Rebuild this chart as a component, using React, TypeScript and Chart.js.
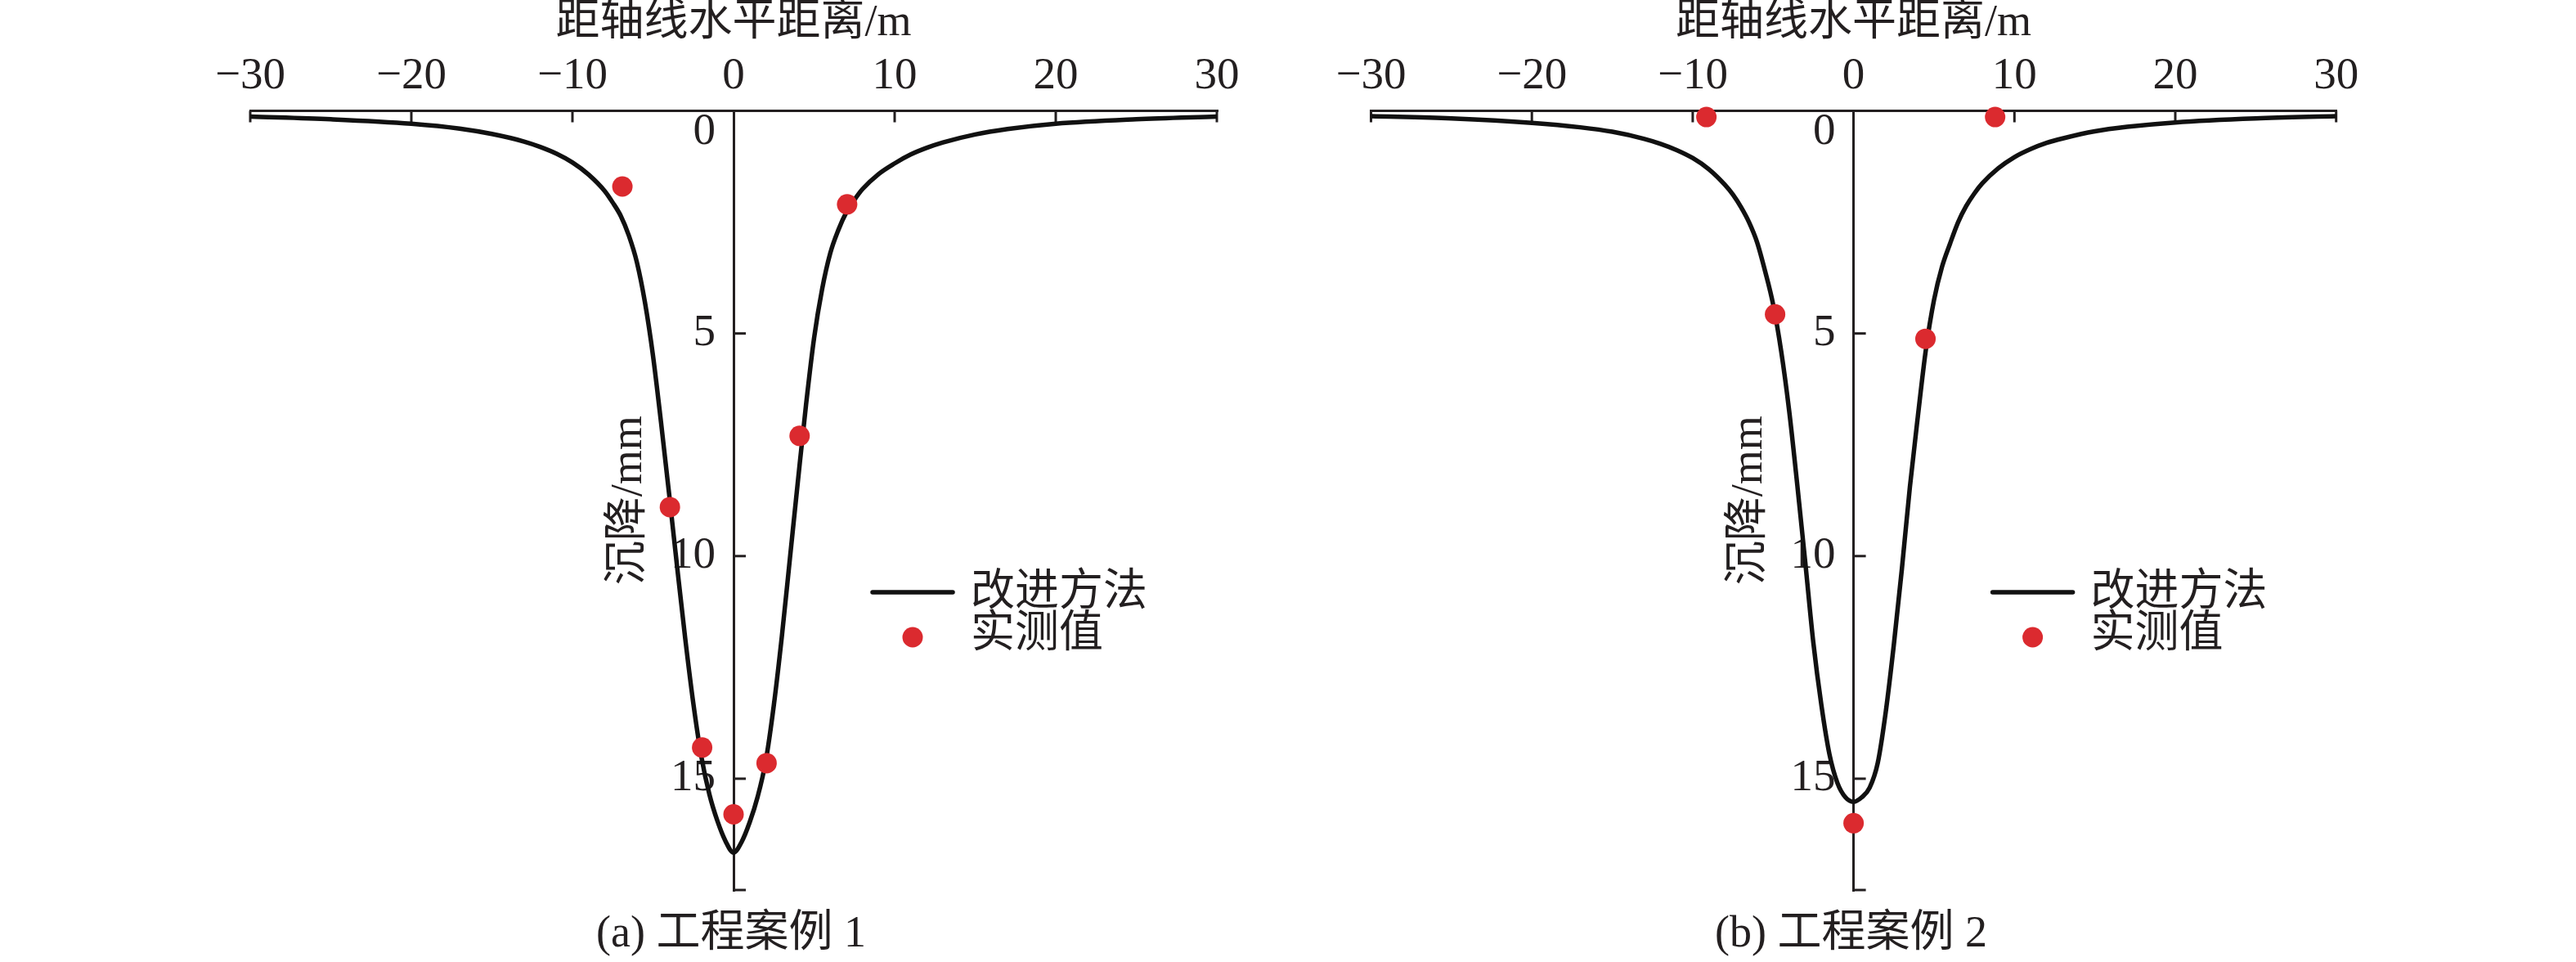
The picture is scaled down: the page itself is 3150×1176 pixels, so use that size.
import React, { useEffect, useRef } from 'react';
import { Chart, registerables } from 'chart.js';

Chart.register(...registerables);

// ---- data ----
const xTicks = [-30, -20, -10, 0, 10, 20, 30];
const yTicks = [0, 5, 10, 15];
const yMax = 17.5;

const xTitle = '距轴线水平距离/m';
const yTitle = '沉降/mm';
const legendLabels = ['改进方法', '实测值'];
const captions = ['(a) 工程案例 1', '(b) 工程案例 2'];

// distance from axis (m) at which the curves were read
const curveX = [
  -30, -25, -20, -17, -15, -13, -12, -11, -10, -9, -8, -7.5, -7, -6.5, -6, -5.5, -5, -4.5, -4, -3.5, -3, -2.5, -2, -1.5, -1, -0.5, 0,
  0.5, 1, 1.5, 2, 2.5, 3, 3.5, 4, 4.5, 5, 5.5, 6, 6.5, 7, 7.5, 8, 9, 10, 11, 12, 13, 15, 17, 20, 25, 30,
];

// case (a): improved-method curve, settlement in mm
const caseACurveY = [
  0.13, 0.19, 0.29, 0.4, 0.52, 0.69, 0.81, 0.96, 1.16, 1.43, 1.8, 2.06, 2.36, 2.8, 3.4, 4.3, 5.5, 7.0, 8.6, 10.25, 11.85, 13.3, 14.5, 15.35, 15.95, 16.4, 16.66,
  16.42, 15.98, 15.4, 14.6, 13.35, 11.8, 10.05, 8.3, 6.6, 5.1, 4.0, 3.2, 2.68, 2.28, 2.0, 1.76, 1.42, 1.18, 0.98, 0.83, 0.71, 0.53, 0.41, 0.29, 0.19, 0.13,
];
const caseAMeasX = [-6.9, -3.95, -1.95, 0, 2.05, 4.1, 7.05];
const caseAMeasY = [1.7, 8.9, 14.3, 15.8, 14.65, 7.3, 2.1];

// case (b)
const caseBCurveY = [
  0.12, 0.17, 0.27, 0.37, 0.47, 0.63, 0.74, 0.88, 1.06, 1.31, 1.66, 1.88, 2.16, 2.5, 2.95, 3.6, 4.35, 5.4, 6.75, 8.4, 10.15, 11.95, 13.35, 14.45, 15.1, 15.42, 15.52,
  15.42, 15.2, 14.65, 13.5, 12.0, 10.3, 8.45, 6.85, 5.35, 4.25, 3.5, 2.98, 2.5, 2.14, 1.86, 1.63, 1.29, 1.04, 0.86, 0.72, 0.62, 0.46, 0.36, 0.26, 0.17, 0.12,
];
const caseBMeasX = [-9.15, -4.88, 0, 4.47, 8.8];
const caseBMeasY = [0.14, 4.57, 16.0, 5.12, 0.14];

// ---- styles ----
const FAMILY = '"Liberation Serif", "Times New Roman", "Noto Sans CJK SC", serif';
const INK = '#231f20';
const CURVE = '#111111';
const RED = '#db2a2f';
const PANEL_W = 1575;
const PANEL_H = 1176;

const fmtTick = (v: number) => (v < 0 ? '\u2212' + Math.abs(v) : String(v));

const decorPlugin = {
  id: 'decor',
  beforeDatasetsDraw(chart: any) {
    const { ctx, chartArea } = chart;
    const xs = chart.scales.x;
    const ys = chart.scales.y;
    const ax = xs.getPixelForValue(0);
    ctx.save();
    ctx.strokeStyle = INK;
    ctx.lineWidth = 3;
    // x tick marks (pointing down into the plot)
    xTicks.filter((v) => v !== 0).forEach((v) => {
      const px = xs.getPixelForValue(v);
      ctx.beginPath();
      ctx.moveTo(px, chartArea.top);
      ctx.lineTo(px, chartArea.top + 14);
      ctx.stroke();
    });
    // y tick marks (pointing right)
    [...yTicks.filter((v) => v > 0), yMax].forEach((v) => {
      const py = ys.getPixelForValue(v);
      ctx.beginPath();
      ctx.moveTo(ax, py);
      ctx.lineTo(ax + 15, py);
      ctx.stroke();
    });
    // y tick labels
    ctx.fillStyle = INK;
    ctx.font = `55px ${FAMILY}`;
    ctx.textAlign = 'right';
    ctx.textBaseline = 'middle';
    yTicks.forEach((v) => {
      const py = ys.getPixelForValue(v) + (v === 0 ? 26 : 0);
      ctx.fillText(String(v), ax - 22, py);
    });
    // y title
    ctx.save();
    ctx.translate(ax - 127, (chartArea.top + chartArea.bottom) / 2);
    ctx.rotate(-Math.PI / 2);
    ctx.textAlign = 'center';
    ctx.font = `54px ${FAMILY}`;
    ctx.fillText(yTitle, 0, 0);
    ctx.restore();
    ctx.restore();
  },
  afterDraw(chart: any, _args: any, opts: any) {
    const { ctx } = chart;
    const xs = chart.scales.x;
    const ax = xs.getPixelForValue(0);
    const curveDs = chart.data.datasets[0];
    const measDs = chart.data.datasets[1];
    ctx.save();
    // legend: line sample
    ctx.strokeStyle = curveDs.borderColor;
    ctx.lineWidth = curveDs.borderWidth;
    ctx.lineCap = 'round';
    ctx.beginPath();
    ctx.moveTo(ax + 170, 724);
    ctx.lineTo(ax + 268, 724);
    ctx.stroke();
    // legend: marker
    ctx.fillStyle = measDs.pointBackgroundColor;
    ctx.beginPath();
    ctx.arc(ax + 219, 779, measDs.pointRadius, 0, Math.PI * 2);
    ctx.fill();
    // legend text
    ctx.fillStyle = INK;
    ctx.font = `54px ${FAMILY}`;
    ctx.textAlign = 'left';
    ctx.textBaseline = 'middle';
    ctx.fillText(curveDs.label, ax + 290, 726);
    ctx.fillText(measDs.label, ax + 290, 777);
    // caption
    ctx.textAlign = 'center';
    ctx.fillText(opts.caption, ax - 3, 1143);
    ctx.restore();
  },
};

type PanelProps = {
  left: number;
  curveY: number[];
  measX: number[];
  measY: number[];
  caption: string;
  padLeft: number;
  padRight: number;
};

function Panel({ left, curveY, measX, measY, caption, padLeft, padRight }: PanelProps) {
  const ref = useRef<HTMLCanvasElement>(null);
  useEffect(() => {
    const canvas = ref.current;
    if (!canvas) return;
    const chart = new Chart(canvas, {
      type: 'line',
      data: {
        datasets: [
          {
            label: legendLabels[0],
            data: curveX.map((x, i) => ({ x, y: curveY[i] })),
            borderColor: CURVE,
            borderWidth: 5.5,
            pointRadius: 0,
            cubicInterpolationMode: 'monotone',
            fill: false,
            order: 2,
          } as any,
          {
            label: legendLabels[1],
            data: measX.map((x, i) => ({ x, y: measY[i] })),
            showLine: false,
            pointRadius: 12.5,
            pointBackgroundColor: RED,
            pointBorderWidth: 0,
            pointBorderColor: RED,
            clip: false,
            order: 1,
          } as any,
        ],
      },
      options: {
        animation: false,
        responsive: false,
        events: [],
        layout: { padding: { left: padLeft, right: padRight, top: 0, bottom: 88 } },
        plugins: {
          legend: { display: false },
          tooltip: { enabled: false },
          title: { display: false },
          decor: { caption },
        } as any,
        scales: {
          x: {
            type: 'linear',
            position: 'top',
            min: -30,
            max: 30,
            afterBuildTicks: (s: any) => {
              s.ticks = xTicks.map((v) => ({ value: v }));
            },
            afterFit: (s: any) => {
              s.height = 135.5;
            },
            ticks: {
              autoSkip: false,
              maxRotation: 0,
              padding: 14,
              color: INK,
              font: { family: FAMILY, size: 55, lineHeight: 1 },
              callback: (v: any) => fmtTick(Number(v)),
            },
            grid: { display: false, drawTicks: false, lineWidth: 3 },
            border: { display: true, color: INK, width: 3 },
            title: {
              display: true,
              text: xTitle,
              color: INK,
              font: { family: FAMILY, size: 54, lineHeight: 1 },
              padding: { top: 2, bottom: 0 },
            },
          } as any,
          y: {
            type: 'linear',
            position: { x: 0 },
            reverse: true,
            min: 0,
            max: yMax,
            afterBuildTicks: (s: any) => {
              s.ticks = yTicks.map((v) => ({ value: v }));
            },
            ticks: { display: false },
            grid: { display: false, drawTicks: false, lineWidth: 3 },
            border: { display: true, color: INK, width: 3 },
          } as any,
        },
      },
      plugins: [decorPlugin],
    });
    return () => chart.destroy();
  }, [curveY, measX, measY, caption, padLeft, padRight]);

  return (
    <div style={{ position: 'absolute', left, top: 0, width: PANEL_W, height: PANEL_H }}>
      <canvas ref={ref} width={PANEL_W} height={PANEL_H} style={{ display: 'block', width: PANEL_W, height: PANEL_H }} />
    </div>
  );
}

export default function App() {
  return (
    <div
      style={{
        position: 'fixed',
        left: 0,
        top: 0,
        width: PANEL_W * 2,
        height: PANEL_H,
        background: '#ffffff',
        overflow: 'hidden',
      }}
    >
      <Panel left={0} curveY={caseACurveY} measX={caseAMeasX} measY={caseAMeasY} caption={captions[0]} padLeft={306} padRight={87} />
      <Panel
        left={PANEL_W}
        curveY={caseBCurveY}
        measX={caseBMeasX}
        measY={caseBMeasY}
        caption={captions[1]}
        padLeft={101.5}
        padRight={293.3}
      />
    </div>
  );
}
